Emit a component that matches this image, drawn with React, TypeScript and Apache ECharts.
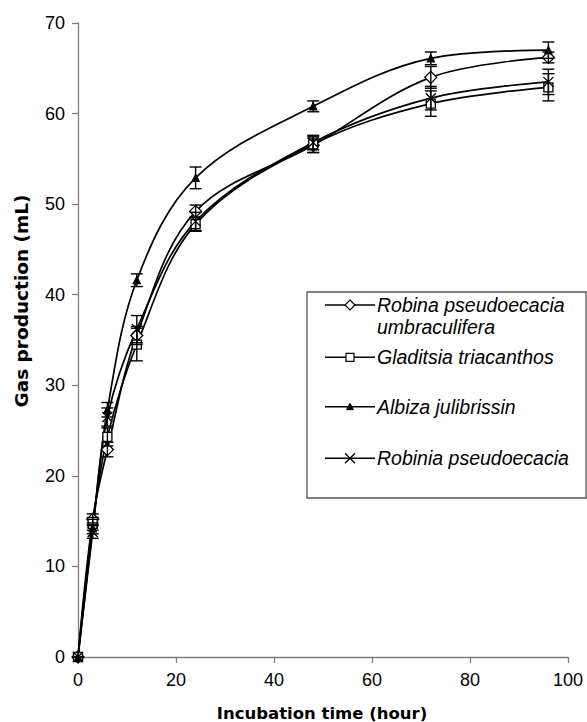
import React, { useEffect, useRef } from "react";
import * as echarts from "echarts";

const hours = [0, 3, 6, 12, 24, 48, 72, 96];
const robinaUmb = [0, 15.2, 22.9, 35.5, 49.2, 56.5, 64.0, 66.2];
const robinaUmbErr = [0, 0.6, 0.8, 1.0, 0.7, 0.8, 1.2, 0.6];
const gladitsia = [0, 14.7, 24.3, 34.5, 47.8, 56.6, 61.1, 62.9];
const gladitsiaErr = [0, 0.7, 1.0, 1.8, 0.8, 0.9, 1.4, 1.5];
const albiza = [0, 14.2, 27.3, 41.6, 52.9, 60.8, 66.1, 67.0];
const albizaErr = [0, 0.6, 0.8, 0.7, 1.2, 0.6, 0.7, 0.9];
const robinia = [0, 13.8, 26.5, 36.2, 48.1, 56.8, 61.7, 63.5];
const robiniaErr = [0, 0.7, 1.0, 1.5, 1.0, 0.8, 1.3, 1.4];

const names = [
  "Robina pseudoecacia umbraculifera",
  "Gladitsia triacanthos",
  "Albiza julibrissin",
  "Robinia pseudoecacia",
];
const xTicks = [0, 20, 40, 60, 80, 100];
const yTicks = [0, 10, 20, 30, 40, 50, 60, 70];

const CROSS = "path://M0,0L10,10M10,0L0,10";

export default function App() {
  const ref = useRef<HTMLDivElement>(null);
  useEffect(() => {
    if (!ref.current) return;
    const chart = echarts.init(ref.current, undefined, { renderer: "svg" });
    const font = "'Liberation Sans', Arial, sans-serif";

    const pairs = (vals: number[]) => hours.map((h, i) => [h, vals[i]]);
    const errData = (vals: number[], errs: number[]) =>
      hours.map((h, i) => [h, vals[i] - errs[i], vals[i] + errs[i]]);

    const lineSeries = (name: string, vals: number[], symbol: string, size: number, fill: string) => ({
      name,
      type: "line",
      data: pairs(vals),
      smooth: 0.35,
      symbol,
      symbolSize: size,
      showAllSymbol: true,
      lineStyle: { color: "#000", width: 1.7 },
      itemStyle: { color: fill, borderColor: "#000", borderWidth: 1.3 },
      z: 3,
    });

    const errSeries = (vals: number[], errs: number[]) => ({
      type: "custom",
      data: errData(vals, errs),
      z: 4,
      silent: true,
      renderItem: (params: any, api: any) => {
        const x = api.value(0);
        const lo = api.coord([x, api.value(1)]);
        const hi = api.coord([x, api.value(2)]);
        const w = 6;
        const st = { stroke: "#000", lineWidth: 1.4 };
        return {
          type: "group",
          children: [
            { type: "line", shape: { x1: lo[0], y1: lo[1], x2: hi[0], y2: hi[1] }, style: st },
            { type: "line", shape: { x1: lo[0] - w, y1: lo[1], x2: lo[0] + w, y2: lo[1] }, style: st },
            { type: "line", shape: { x1: hi[0] - w, y1: hi[1], x2: hi[0] + w, y2: hi[1] }, style: st },
          ],
        };
      },
    });

    const lx = 350;
    const rows = [305, 357.3, 406.7, 458.3];
    const lineSample = (y: number) => ({
      type: "line",
      shape: { x1: 325, y1: y, x2: 375, y2: y },
      style: { stroke: "#000", lineWidth: 1.4 },
      z: 12,
    });
    const legText = (text: string, y: number) => ({
      type: "text",
      x: 377,
      y,
      z: 12,
      style: {
        text,
        font: "italic 19.5px 'Liberation Sans', Arial, sans-serif",
        fill: "#000",
        textAlign: "left",
        textVerticalAlign: "middle",
      },
    });

    chart.setOption({
      animation: false,
      backgroundColor: "#fff",
      grid: { left: 78, right: 19, top: 23, bottom: 65, containLabel: false },
      xAxis: {
        type: "value",
        min: xTicks[0],
        max: xTicks[xTicks.length - 1],
        interval: 20,
        axisLine: { show: true, lineStyle: { color: "#7f7f7f", width: 1.3 } },
        axisTick: { show: true, length: 6, lineStyle: { color: "#7f7f7f", width: 1.3 } },
        splitLine: { show: false },
        axisLabel: { color: "#000", fontSize: 18, fontFamily: font, margin: 14 },
      },
      yAxis: {
        type: "value",
        min: yTicks[0],
        max: yTicks[yTicks.length - 1],
        interval: 10,
        axisLine: { show: true, lineStyle: { color: "#7f7f7f", width: 1.3 } },
        axisTick: { show: true, length: 6, lineStyle: { color: "#7f7f7f", width: 1.3 } },
        splitLine: { show: false },
        axisLabel: { color: "#000", fontSize: 18, fontFamily: font, margin: 13 },
      },
      series: [
        lineSeries(names[0], robinaUmb, "diamond", 12, "#fff"),
        lineSeries(names[1], gladitsia, "rect", 9, "#fff"),
        lineSeries(names[2], albiza, "triangle", 7, "#000"),
        lineSeries(names[3], robinia, CROSS, 10, "#000"),
        errSeries(robinaUmb, robinaUmbErr),
        errSeries(gladitsia, gladitsiaErr),
        errSeries(albiza, albizaErr),
        errSeries(robinia, robiniaErr),
      ],
      graphic: [
        {
          type: "text",
          x: 322,
          y: 713,
          style: {
            text: "Incubation time (hour)",
            font: "bold 16.5px 'DejaVu Sans', sans-serif",
            fill: "#000",
            textAlign: "center",
            textVerticalAlign: "middle",
          },
        },
        {
          type: "text",
          x: 21,
          y: 301,
          rotation: Math.PI / 2,
          style: {
            text: "Gas production (mL)",
            font: "bold 18.5px 'DejaVu Sans', sans-serif",
            fill: "#000",
            textAlign: "center",
            textVerticalAlign: "middle",
          },
        },
        {
          type: "rect",
          shape: { x: 307, y: 292, width: 279, height: 206 },
          style: { fill: "#fff", stroke: "#555", lineWidth: 1.3 },
          z: 10,
        },
        lineSample(rows[0]),
        {
          type: "polygon",
          z: 13,
          shape: { points: [[lx, rows[0] - 5], [lx + 5, rows[0]], [lx, rows[0] + 5], [lx - 5, rows[0]]] },
          style: { fill: "#fff", stroke: "#000", lineWidth: 1.2 },
        },
        legText("Robina pseudoecacia", rows[0]),
        legText("umbraculifera", 326.7),
        lineSample(rows[1]),
        {
          type: "rect",
          z: 13,
          shape: { x: lx - 4, y: rows[1] - 4, width: 8, height: 8 },
          style: { fill: "#fff", stroke: "#000", lineWidth: 1.2 },
        },
        legText(names[1], rows[1]),
        lineSample(rows[2]),
        {
          type: "polygon",
          z: 13,
          shape: { points: [[lx, rows[2] - 3.5], [lx + 3.5, rows[2] + 3], [lx - 3.5, rows[2] + 3]] },
          style: { fill: "#000", stroke: "#000", lineWidth: 1 },
        },
        legText(names[2], rows[2]),
        lineSample(rows[3]),
        {
          type: "line",
          z: 13,
          shape: { x1: lx - 5, y1: rows[3] - 5, x2: lx + 5, y2: rows[3] + 5 },
          style: { stroke: "#000", lineWidth: 1.3 },
        },
        {
          type: "line",
          z: 13,
          shape: { x1: lx - 5, y1: rows[3] + 5, x2: lx + 5, y2: rows[3] - 5 },
          style: { stroke: "#000", lineWidth: 1.3 },
        },
        legText(names[3], rows[3]),
      ],
    });
    return () => chart.dispose();
  }, []);
  return (
    <div
      ref={ref}
      style={{ position: "absolute", left: 0, top: 0, width: 587, height: 722 }}
    />
  );
}
